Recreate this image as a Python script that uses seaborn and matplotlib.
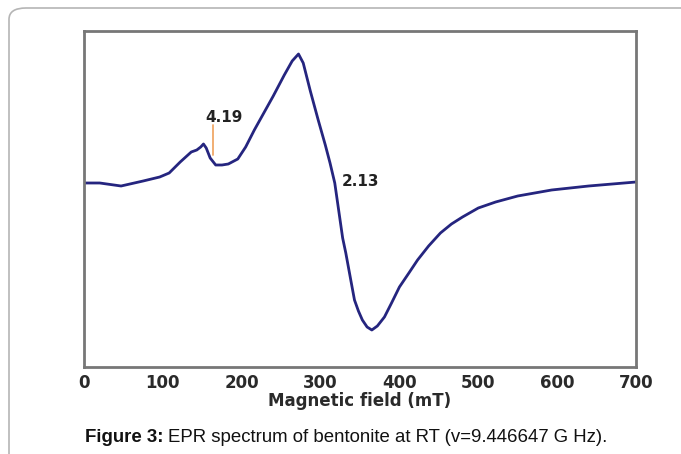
import numpy as np
import pandas as pd
import seaborn as sns
import matplotlib.pyplot as plt
from matplotlib.patches import FancyBboxPatch

# EPR spectrum (field in mT, signal in arbitrary units)
field = [0, 20, 47, 75, 96, 108, 122, 136, 143, 148, 151.5, 155, 160, 167, 175, 183,
         195, 205, 216, 228, 240, 254, 264, 272, 278, 287, 297, 306, 312, 318, 322,
         328, 332, 339, 343, 348, 353, 359, 365, 372, 381, 390, 400, 412, 423, 437,
         452, 466, 480, 500, 522, 550, 593, 640, 700]
signal = [0, 0, -3, 2, 6, 10, 21, 31, 33, 36, 39, 35, 25, 18, 18, 19,
          24, 36, 53, 70, 87, 108, 122, 129, 120, 92, 63, 38, 20, 0, -22,
          -55, -70, -100, -117, -128, -137, -144, -147, -143, -134, -120, -104, -90, -77, -63,
          -50, -41, -34, -25, -19, -13, -7, -3, 1]

df = pd.DataFrame({"field": field, "signal": signal})

sns.set_style("white")
plt.rcParams['font.family'] = ['Liberation Sans', 'DejaVu Sans']

fig = plt.figure(figsize=(6.81, 4.54), dpi=100)
ax = fig.add_axes([84/681, 1-367/454, (636-84)/681, (367-31)/454])

# page frame with rounded corner
frame = FancyBboxPatch((9/681, -0.2), 1.2, 1-8/454+0.2, boxstyle="round,pad=0,rounding_size=0.025",
                       transform=fig.transFigure, fill=False, edgecolor="#b5b5b5", linewidth=1.2)
fig.patches.append(frame)

sns.lineplot(data=df, x="field", y="signal", ax=ax, color="#25257f", linewidth=2)

# g-value annotations
ax.plot([164, 164], [28, 58], color="#f0a868", linewidth=1.3)
ax.text(177, 66, "4.19", fontsize=11, fontweight="bold", color="#222222", ha="center", va="center",
        family="DejaVu Sans")
ax.text(351, 1, "2.13", fontsize=11, fontweight="bold", color="#222222", ha="center", va="center",
        family="DejaVu Sans")

ax.set_xlim(0, 700)
ax.set_ylim(-184, 152)
ax.set_xticks(range(0, 701, 100))
ax.set_xticks(range(50, 701, 100), minor=True)
ax.set_yticks([])
ax.tick_params(axis="x", which="both", direction="in", length=4, width=1.2, color="#777777",
               labelsize=12, labelcolor="#2a2a2a", pad=5)
for lab in ax.get_xticklabels():
    lab.set_fontweight("bold")
    lab.set_family("DejaVu Sans")
for s in ax.spines.values():
    s.set_color("#777777")
    s.set_linewidth(2)

ax.set_xlabel("Magnetic field (mT)", fontsize=12, fontweight="bold", color="#2a2a2a", labelpad=0,
              family="DejaVu Sans")
ax.set_ylabel("")

# caption: bold label followed by regular text
t1 = fig.text(85/681, 1-437/454, "Figure 3:", fontsize=13.4, fontweight="bold", ha="left", va="center",
              color="#111111")
fig.canvas.draw()
bb = t1.get_window_extent()
fig.text(bb.x1/fig.bbox.width + 5/681, 1-437/454, "EPR spectrum of bentonite at RT (v=9.446647 G Hz).",
         fontsize=13.4, ha="left", va="center", color="#111111")

fig.savefig("out.png", dpi=100)
